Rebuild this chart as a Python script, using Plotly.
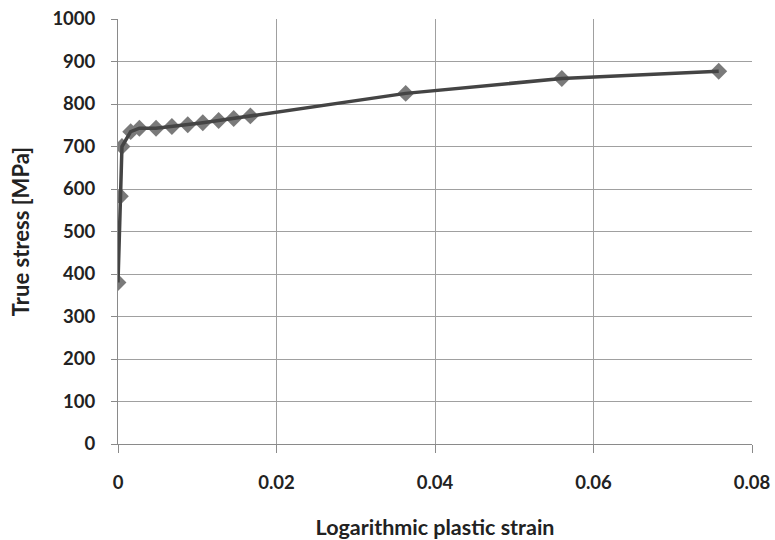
import plotly.graph_objects as go

strain = [0.0, 0.0003, 0.0005, 0.0016, 0.0027, 0.0048, 0.0068, 0.0088, 0.0107, 0.0127, 0.0146, 0.0167, 0.0363, 0.0560, 0.0758]
stress = [380, 583, 700, 735, 743, 743, 747, 751, 756, 761, 766, 772, 825, 860, 877]

x_ticks = [0, 0.02, 0.04, 0.06, 0.08]
x_tick_text = ["0", "0.02", "0.04", "0.06", "0.08"]
y_ticks = list(range(0, 1001, 100))

font_family = "Lato, 'Open Sans', sans-serif"
tick_font = dict(family=font_family, size=18.5, color="#222", weight="bold")

fig = go.Figure()
fig.add_trace(go.Scatter(
    x=strain, y=stress, mode="markers",
    marker=dict(symbol="diamond", size=13, color="#7a7a7a", line=dict(width=0)),
    showlegend=False,
))
fig.add_trace(go.Scatter(
    x=strain, y=stress, mode="lines",
    line=dict(color="#444444", width=3.5),
    showlegend=False,
))

fig.update_layout(
    width=775, height=540,
    paper_bgcolor="white", plot_bgcolor="white",
    margin=dict(l=118, r=23, t=19, b=96),
    font=dict(family=font_family, size=14, color="#222"),
    xaxis=dict(
        range=[0, 0.08], tickvals=x_ticks, ticktext=x_tick_text,
        showgrid=True, gridcolor="#a0a0a0", gridwidth=1,
        showline=True, linecolor="#8a8a8a", linewidth=1,
        ticks="outside", ticklen=8, tickcolor="#8a8a8a",
        ticklabelstandoff=14, ticklabeloverflow="allow",
        zeroline=False, automargin=False,
        tickfont=tick_font,
        title=dict(text="<b>Logarithmic plastic strain</b>", standoff=28,
                   font=dict(family=font_family, size=21.5, color="#222")),
    ),
    yaxis=dict(
        range=[0, 1000], tickvals=y_ticks,
        showgrid=True, gridcolor="#a0a0a0", gridwidth=1,
        showline=True, linecolor="#8a8a8a", linewidth=1,
        ticks="outside", ticklen=6, tickcolor="#8a8a8a",
        ticklabelstandoff=12, ticklabeloverflow="allow",
        zeroline=False, automargin=False,
        tickfont=tick_font,
        title=dict(text="<b>True stress [MPa]</b>", standoff=16,
                   font=dict(family=font_family, size=22, color="#222")),
    ),
)

fig.write_html("out.html", config={"displayModeBar": False},
               post_script="document.body.style.margin='0';document.body.style.overflow='hidden';")
